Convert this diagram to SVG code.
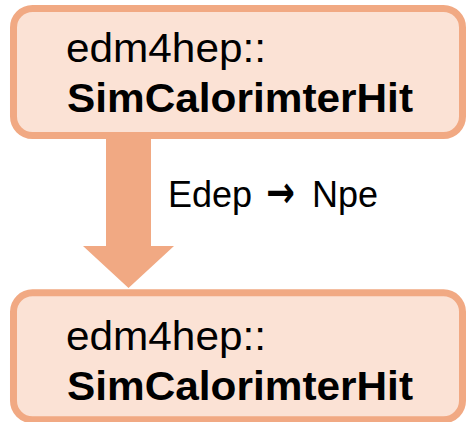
<svg xmlns="http://www.w3.org/2000/svg" width="468" height="422" viewBox="0 0 468 422">
  <style>
    .box { fill: #FBE2D5; stroke: #F1A983; stroke-width: 7; }
    .t { font-family: "Liberation Sans", Arial, sans-serif; fill: #000; }
    .ns { font-size: 40px; }
    .cls { font-size: 40px; font-weight: bold; }
    .lbl { font-size: 36px; }
    .arw { font-family: "DejaVu Sans", sans-serif; font-weight: bold; font-size: 44px; }
    .arrow { fill: #F1A983; }
  </style>
  <rect width="468" height="422" fill="#ffffff"/>
  <g id="connectors">
    <polygon class="arrow" points="106,138 151,138 151,246 174,246 128.5,288 83,246 106,246"/>
    <text class="t lbl" y="207"><tspan x="168">Edep</tspan><tspan x="312">Npe</tspan></text>
    <text class="arw" x="0" y="0" transform="translate(266,207) scale(0.78,1)">→</text>
  </g>
  <g id="node-top">
    <rect class="box" x="13.5" y="8.5" width="449" height="127" rx="19"/>
    <text class="t ns" x="66" y="62" textLength="200" lengthAdjust="spacingAndGlyphs">edm4hep::</text>
    <text class="t cls" x="67" y="111.5" textLength="346" lengthAdjust="spacingAndGlyphs">SimCalorimterHit</text>
  </g>
  <g id="node-bottom">
    <rect class="box" x="13.5" y="292.8" width="449" height="127" rx="19"/>
    <text class="t ns" x="66" y="350" textLength="200" lengthAdjust="spacingAndGlyphs">edm4hep::</text>
    <text class="t cls" x="67" y="399.5" textLength="346" lengthAdjust="spacingAndGlyphs">SimCalorimterHit</text>
  </g>
</svg>
